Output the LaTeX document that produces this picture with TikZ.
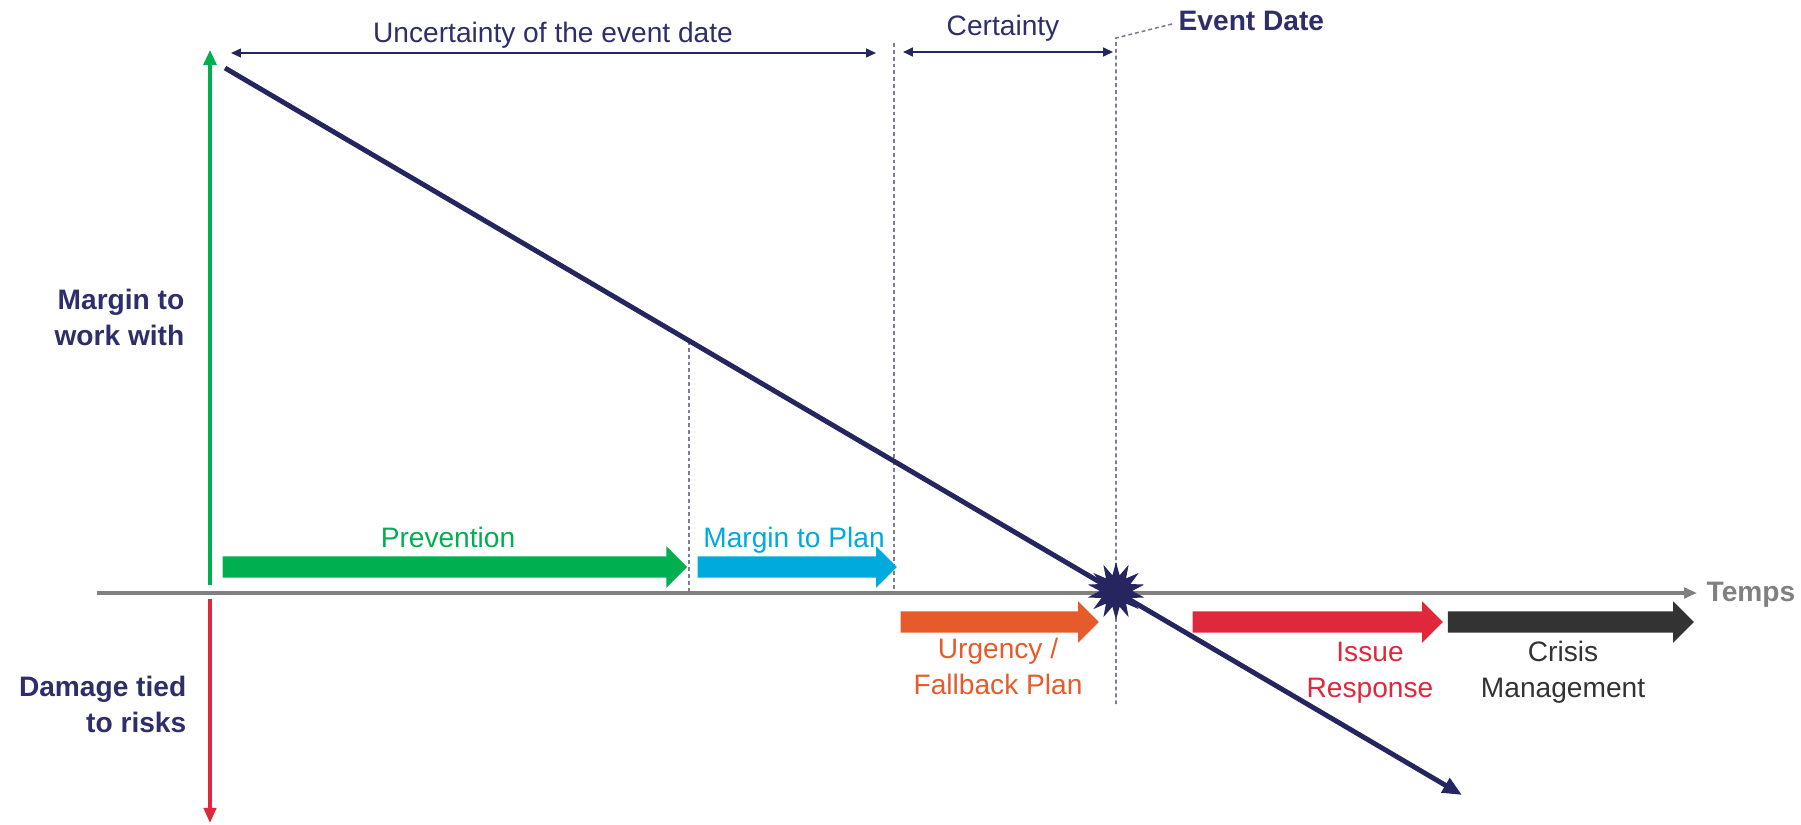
\documentclass[tikz,border=0pt]{standalone}
\usepackage{fontspec}
\setmainfont{Liberation Sans}
\usetikzlibrary{arrows.meta}
\usetikzlibrary{shapes.geometric}
\usetikzlibrary{shapes.arrows}
\definecolor{navy}{HTML}{252560}
\definecolor{navytext}{HTML}{2E2E6A}
\definecolor{prevgreen}{HTML}{00B050}
\definecolor{plancyan}{HTML}{00AADD}
\definecolor{urgorange}{HTML}{E55B2B}
\definecolor{issuered}{HTML}{E0283C}
\definecolor{crisisdark}{HTML}{333333}
\definecolor{axisgrey}{HTML}{808080}
\definecolor{guidegrey}{HTML}{7C7CA0}
\tikzset{lbl/.style={font=\fontsize{8}{10}\selectfont, inner sep=0pt},
 boldlbl/.style={lbl, font=\fontsize{8}{10}\selectfont\bfseries},
 phase/.style={single arrow, draw=none, anchor=west, inner sep=0pt,
  inner ysep=2.85pt, single arrow head extend=2.85pt,
  single arrow tip angle=90, minimum width=0pt},
 dimline/.style={navy, {Triangle[length=2.8pt,width=2.5pt]}-{Triangle[length=2.8pt,width=2.5pt]}},
 guide/.style={draw=guidegrey, line width=0.45pt, dash pattern=on 1.1pt off 0.85pt},
 }

\begin{document}
\begin{tikzpicture}[x=0.01cm, y=-0.01cm]
        \useasboundingbox (0,0) rectangle (1801,824);
        \coordinate (ax0) at (97,593);
        \coordinate (ax1) at (1697,593);
        \coordinate (up0) at (210,585);
        \coordinate (up1) at (210,50);
        \coordinate (dn0) at (210,599);
        \coordinate (dn1) at (210,823);
        \coordinate (hi) at (225,68);
        \coordinate (lo) at (1462,795);
        \coordinate (mp) at (689,341);
        \coordinate (mpax) at (689,593);
        \coordinate (g1top) at (894,43);
        \coordinate (g1bot) at (894,593);
        \coordinate (g2top) at (1116,38);
        \coordinate (g2bot) at (1116,707);
        \coordinate (g2lead) at (1172,24);
        \coordinate (u0) at (231,53);
        \coordinate (u1) at (876,53);
        \coordinate (c0) at (903,52);
        \coordinate (c1) at (1113,52);
        \draw[guide] (mp) -- (mpax);
        \draw[guide] (g1top) -- (g1bot);
        \draw[guide] (g2lead) -- (g2top) -- (g2bot);
        \draw[axisgrey, line width=0.9pt, -{Triangle[length=3.7pt,width=3pt]}] (ax0) -- (ax1);
        \draw[prevgreen, line width=0.95pt, -{Triangle[length=4.3pt,width=3.7pt]}] (up0) -- (up1);
        \draw[issuered, line width=0.95pt, -{Triangle[length=4.3pt,width=3.5pt]}] (dn0) -- (dn1);
        \draw[dimline, line width=0.45pt] (u0) -- (u1);
        \draw[dimline, line width=0.6pt] (c0) -- (c1);
        \node[phase, fill=prevgreen, minimum height=4.64cm] (prev) at (222,567) {};
        \node[phase, fill=plancyan, minimum height=1.99cm] (plan) at (697,567) {};
        \node[phase, fill=urgorange, minimum height=1.98cm] (urg) at (900,622) {};
        \node[phase, fill=issuered, minimum height=2.50cm] (issue) at (1192,622) {};
        \node[phase, fill=crisisdark, minimum height=2.46cm] (crisis) at (1447,622) {};
        \draw[navy, line width=1.4pt, -{Triangle[length=5.5pt,width=4.5pt]}] (hi) -- (lo);
        \node[star, star points=14, star point ratio=1.8, minimum size=16.5pt, inner sep=0pt, fill=navy] (evt) at (1116,591) {};
        \node[lbl, anchor=base, text=navytext] (unc) at (553,42) {Uncertainty of the event date};
        \node[lbl, anchor=base, text=navytext] (cert) at (1003,35) {Certainty};
        \node[boldlbl, anchor=base west, text=navytext] (evtdate) at (1178,31) {Event Date};
        \node[boldlbl, anchor=base west, text=axisgrey] (temps) at (1706,601) {Temps};
        \node[boldlbl, anchor=base east, align=right, text=navytext] (margin) at (185,345) {Margin to\\work with};
        \node[boldlbl, anchor=base east, align=right, text=navytext] (damage) at (187,732) {Damage tied\\to risks};
        \node[lbl, anchor=base, text=prevgreen] (prevlbl) at (448,547) {Prevention};
        \node[lbl, anchor=base, text=plancyan] (planlbl) at (794,547) {Margin to Plan};
        \node[lbl, anchor=base, align=center, text=urgorange] (urglbl) at (998,694) {Urgency /\\Fallback Plan};
        \node[lbl, anchor=base, align=center, text=issuered] (issuelbl) at (1370,697) {Issue\\Response};
        \node[lbl, anchor=base, align=center, text=crisisdark] (crisislbl) at (1563,697) {Crisis\\Management};
    \end{tikzpicture}
\end{document}
